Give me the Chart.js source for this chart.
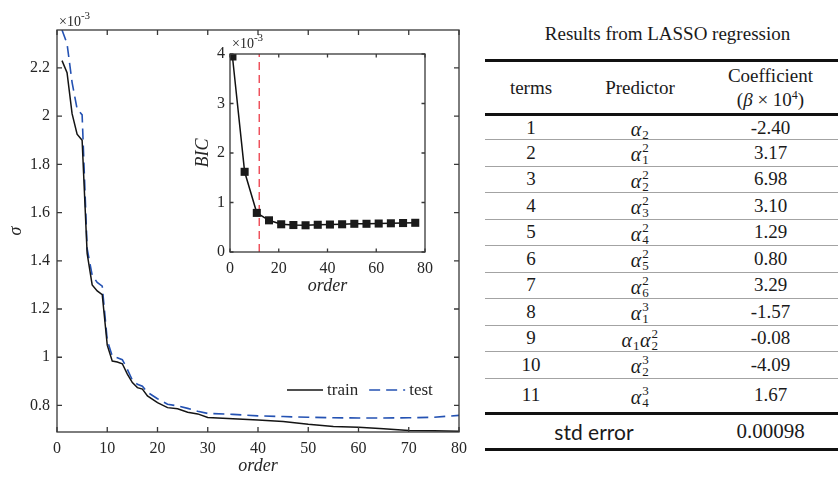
<!DOCTYPE html>
<html>
<head>
<meta charset="utf-8">
<script src="https://cdn.jsdelivr.net/npm/chart.js@4"></script>
<style>
  html, body { margin: 0; padding: 0; background: #fff; }
  body { width: 838px; height: 477px; position: relative; overflow: hidden; }
  #mainChart { position: absolute; left: 0; top: 0; }
  #bicChart { position: absolute; left: 180px; top: 30px; }

  #tbl { position: absolute; left: 485px; top: 0; width: 353px; color: #1a1a1a;
         font-family: "Liberation Serif", "Times New Roman", serif; font-size: 19px; }
  #tbl .title { position: absolute; left: 6px; top: 22px; width: 353px; text-align: center; line-height: 24px; }
  #tbl .row { position: absolute; left: 0; width: 353px; display: flex; box-sizing: border-box; }
  #tbl .cell { display: flex; align-items: center; justify-content: center; text-align: center; }
  #tbl .c1 { width: 92px; } #tbl .c2 { width: 126px; } #tbl .c3 { width: 135px; }
  #tbl .head { border-top: 3px solid #111; border-bottom: 3px solid #111; line-height: 24px; }
  #tbl .body { border-bottom: 1.5px solid #a3a3a3; }
  #tbl .body.last { border-bottom: none; }
  #tbl .foot { border-top: 3px solid #111; border-bottom: 3px solid #111; }
  #tbl .se { width: 218px; font-family: Lato, "Noto Sans", sans-serif; font-size: 21px; }
  #tbl .sev { font-size: 21px; }
  .pred { font-size: 20px; white-space: nowrap; line-height: 20px; }
  .pred i { font-style: italic; }
  .ss { display: inline-block; position: relative; width: 8px; height: 20px; vertical-align: baseline; }
  .ss span { position: absolute; left: 1px; font-size: 13px; line-height: 1; font-style: normal; }
  .ss .sp { top: 0px; }
  .ss .sb { top: 12px; }
  sup.e { font-size: 12px; vertical-align: 7px; line-height: 0; }
</style>
</head>
<body>
<canvas id="mainChart" width="480" height="477"></canvas>
<canvas id="bicChart" width="260" height="270"></canvas>
<div id="tbl"></div>

<script>
/* ======================================================
   Data (sigma values shown in units of 1e-3)
=========================================================*/
const orders = [1, 2, 3, 4, 5, 6, 7, 8, 9, 10, 11, 12, 13, 14, 15, 16, 17, 18, 20, 22, 24, 26, 28, 30,
                35, 40, 45, 50, 55, 60, 65, 70, 75, 80];
const trainSigma = [2.23, 2.18, 2.01, 1.925, 1.90, 1.43, 1.30, 1.275, 1.26, 1.05, 0.984, 0.980, 0.973,
                    0.93, 0.895, 0.874, 0.868, 0.84, 0.812, 0.791, 0.786, 0.772, 0.765, 0.750,
                    0.745, 0.740, 0.734, 0.722, 0.713, 0.710, 0.703, 0.696, 0.695, 0.693];
const testSigma = [2.357, 2.30, 2.14, 2.03, 2.005, 1.45, 1.34, 1.31, 1.295, 1.07, 1.004, 0.998, 0.99,
                   0.95, 0.905, 0.888, 0.88, 0.855, 0.828, 0.805, 0.798, 0.788, 0.776, 0.767,
                   0.763, 0.757, 0.754, 0.751, 0.749, 0.748, 0.748, 0.749, 0.751, 0.759];
const mainXTicks = [0, 10, 20, 30, 40, 50, 60, 70, 80];
const mainYTicks = [0.8, 1, 1.2, 1.4, 1.6, 1.8, 2, 2.2];

const bicOrders = [1, 6, 11, 16, 21, 26, 31, 36, 41, 46, 51, 56, 61, 66, 71, 76];
const bicValues = [3.95, 1.62, 0.79, 0.64, 0.56, 0.545, 0.54, 0.55, 0.555, 0.56, 0.57, 0.57,
                   0.575, 0.58, 0.585, 0.59];
const bicCutoff = 12;
const bicXTicks = [0, 20, 40, 60, 80];
const bicYTicks = [0, 1, 2, 3, 4];

const termNums = [1, 2, 3, 4, 5, 6, 7, 8, 9, 10, 11];
// each predictor: list of [subscript, superscript] factors of alpha
const predictors = [
  [["2", ""]], [["1", "2"]], [["2", "2"]], [["3", "2"]], [["4", "2"]], [["5", "2"]],
  [["6", "2"]], [["1", "3"]], [["1", ""], ["2", "2"]], [["2", "3"]], [["4", "3"]]
];
const coefficients = ["-2.40", "3.17", "6.98", "3.10", "1.29", "0.80", "3.29", "-1.57", "-0.08", "-4.09", "1.67"];
const stdError = "0.00098";

/* ======================================================
   Plugins: MATLAB-like box with inward ticks, exponent, legend
=========================================================*/
const SERIF = "'Liberation Serif', 'Times New Roman', serif";

const boxPlugin = {
  id: "matlabBox",
  afterDatasetsDraw(chart, args, opts) {
    const { ctx, chartArea: a, scales: { x, y } } = chart;
    ctx.save();
    ctx.strokeStyle = opts.color;
    ctx.lineWidth = opts.width;
    ctx.strokeRect(a.left, a.top, a.width, a.height);
    ctx.beginPath();
    x.ticks.forEach(t => {
      const px = x.getPixelForValue(t.value);
      ctx.moveTo(px, a.bottom); ctx.lineTo(px, a.bottom - opts.tick);
      ctx.moveTo(px, a.top); ctx.lineTo(px, a.top + opts.tick);
    });
    y.ticks.forEach(t => {
      const py = y.getPixelForValue(t.value);
      ctx.moveTo(a.left, py); ctx.lineTo(a.left + opts.tick, py);
      ctx.moveTo(a.right, py); ctx.lineTo(a.right - opts.tick, py);
    });
    ctx.stroke();

    // x10^-3 multiplier above the y axis
    ctx.fillStyle = "#262626";
    ctx.textBaseline = "alphabetic";
    ctx.font = "14px " + SERIF;
    const base = a.top - opts.expGap;
    ctx.fillText("\u00d710", a.left + 2, base);
    const w = ctx.measureText("\u00d710").width;
    ctx.font = "11px " + SERIF;
    ctx.fillText("-3", a.left + 2 + w, base - 7);

    // legend inside the plot
    if (opts.legend) {
      const ly = a.bottom - 42;
      let lx = a.right - 172;
      ctx.font = "17px " + SERIF;
      ctx.textBaseline = "middle";
      chart.data.datasets.forEach(ds => {
        ctx.beginPath();
        ctx.strokeStyle = ds.borderColor;
        ctx.lineWidth = ds.borderWidth;
        ctx.setLineDash(ds.borderDash || []);
        ctx.moveTo(lx, ly); ctx.lineTo(lx + 36, ly);
        ctx.stroke();
        ctx.setLineDash([]);
        ctx.fillText(ds.label, lx + 40, ly + 1);
        lx += 40 + ctx.measureText(ds.label).width + 11;
      });
    }
    ctx.restore();
  }
};

function fixedTicks(list) {
  return s => { s.ticks = list.map(v => ({ value: v })); };
}

function axisOpts(min, max, ticks, fit, pad, title, titlePad) {
  return {
    type: "linear", min: min, max: max,
    afterBuildTicks: fixedTicks(ticks),
    afterFit: fit,
    grid: { display: false, drawTicks: false },
    border: { display: false },
    ticks: { padding: pad, font: { size: 16 }, maxRotation: 0, autoSkip: false,
             callback: v => String(+v.toFixed(2)) },
    title: { display: true, text: title, font: { size: 18, style: "italic" }, padding: titlePad }
  };
}

/* ======================================================
   Main chart: sigma vs order
=========================================================*/
function drawMain() {
  new Chart(document.getElementById("mainChart"), {
    type: "line",
    data: {
      datasets: [
        {
          label: "train",
          data: orders.map((o, i) => ({ x: o, y: trainSigma[i] })),
          borderColor: "#141414", borderWidth: 1.5, pointRadius: 0, tension: 0
        },
        {
          label: "test",
          data: orders.map((o, i) => ({ x: o, y: testSigma[i] })),
          borderColor: "#2452b3", borderWidth: 1.6, borderDash: [11, 6], pointRadius: 0, tension: 0
        }
      ]
    },
    options: {
      responsive: false,
      animation: false,
      layout: { padding: { top: 30, right: 21, left: 0, bottom: 0 } },
      plugins: {
        legend: { display: false },
        tooltip: { enabled: false },
        matlabBox: { color: "#383838", width: 1.3, tick: 5, expGap: 4, legend: true }
      },
      scales: {
        x: axisOpts(0, 80, mainXTicks, s => { s.height = 45; }, 7, "order", { top: 0, bottom: 0 }),
        y: axisOpts(0.69, 2.357, mainYTicks, s => { s.width = 57; }, 7, "\u03c3", { top: 5, bottom: 0 })
      }
    },
    plugins: [boxPlugin]
  });
}

/* ======================================================
   Inset chart: BIC vs order
=========================================================*/
function drawInset() {
  new Chart(document.getElementById("bicChart"), {
    type: "line",
    data: {
      datasets: [
        {
          label: "BIC",
          data: bicOrders.map((o, i) => ({ x: o, y: bicValues[i] })),
          borderColor: "#111", borderWidth: 1.5, tension: 0,
          pointStyle: "rect", pointRadius: 5.7, pointBackgroundColor: "#1a1a1a", pointBorderWidth: 0
        },
        {
          label: "cutoff",
          data: [{ x: bicCutoff, y: bicYTicks[0] }, { x: bicCutoff, y: bicYTicks[bicYTicks.length - 1] }],
          borderColor: "#ee4a55", borderWidth: 1.4, borderDash: [8, 5], pointRadius: 0
        }
      ]
    },
    options: {
      responsive: false,
      animation: false,
      layout: { padding: { top: 24, right: 13, left: 0, bottom: 0 } },
      plugins: {
        legend: { display: false },
        tooltip: { enabled: false },
        matlabBox: { color: "#383838", width: 1.3, tick: 3.5, expGap: 6, legend: false }
      },
      scales: {
        x: axisOpts(0, 80, bicXTicks, s => { s.height = 48; }, 7, "order", { top: 0, bottom: 3 }),
        y: axisOpts(0, 4, bicYTicks, s => { s.width = 50; }, 5, "BIC", { top: 12, bottom: 0 })
      }
    },
    plugins: [boxPlugin]
  });
}

/* ======================================================
   Results table
=========================================================*/
function predictorHTML(factors) {
  return factors.map(([sb, sp]) =>
    `<i>\u03b1</i><span class="ss">${sp ? `<span class="sp">${sp}</span>` : ""}<span class="sb">${sb}</span></span>`
  ).join("");
}

function buildTable() {
  const tbl = document.getElementById("tbl");
  let html = `<div class="title">Results from LASSO regression</div>`;
  html += `<div class="row head" style="top:59px;height:57px">
      <div class="cell c1"><span>terms</span></div><div class="cell c2"><span>Predictor</span></div>
      <div class="cell c3"><span>Coefficient<br>(<i>\u03b2</i> \u00d7 10<sup class="e">4</sup>)</span></div></div>`;
  let top = 116;
  termNums.forEach((n, i) => {
    const h = i === 0 ? 24 : (i === termNums.length - 1 ? 33.5 : 26.5);
    const last = i === termNums.length - 1 ? " last" : "";
    html += `<div class="row body${last}" style="top:${top}px;height:${h}px">
      <div class="cell c1"><span>${n}</span></div>
      <div class="cell c2"><span class="pred">${predictorHTML(predictors[i])}</span></div>
      <div class="cell c3"><span>${coefficients[i]}</span></div></div>`;
    top += h;
  });
  html += `<div class="row foot" style="top:${top}px;height:38.5px">
      <div class="cell se"><span>std error</span></div><div class="cell c3 sev"><span>${stdError}</span></div></div>`;
  tbl.innerHTML = html;
}

/* ======================================================
   Start after fonts are ready
=========================================================*/
document.addEventListener("DOMContentLoaded", () => {
  buildTable();
  Chart.defaults.font.family = SERIF;
  Chart.defaults.color = "#262626";
  Promise.all([
    document.fonts.load("16px 'Liberation Serif'"),
    document.fonts.load("italic 18px 'Liberation Serif'")
  ]).catch(() => null).then(() => { drawMain(); drawInset(); });
});
</script>
</body>
</html>
